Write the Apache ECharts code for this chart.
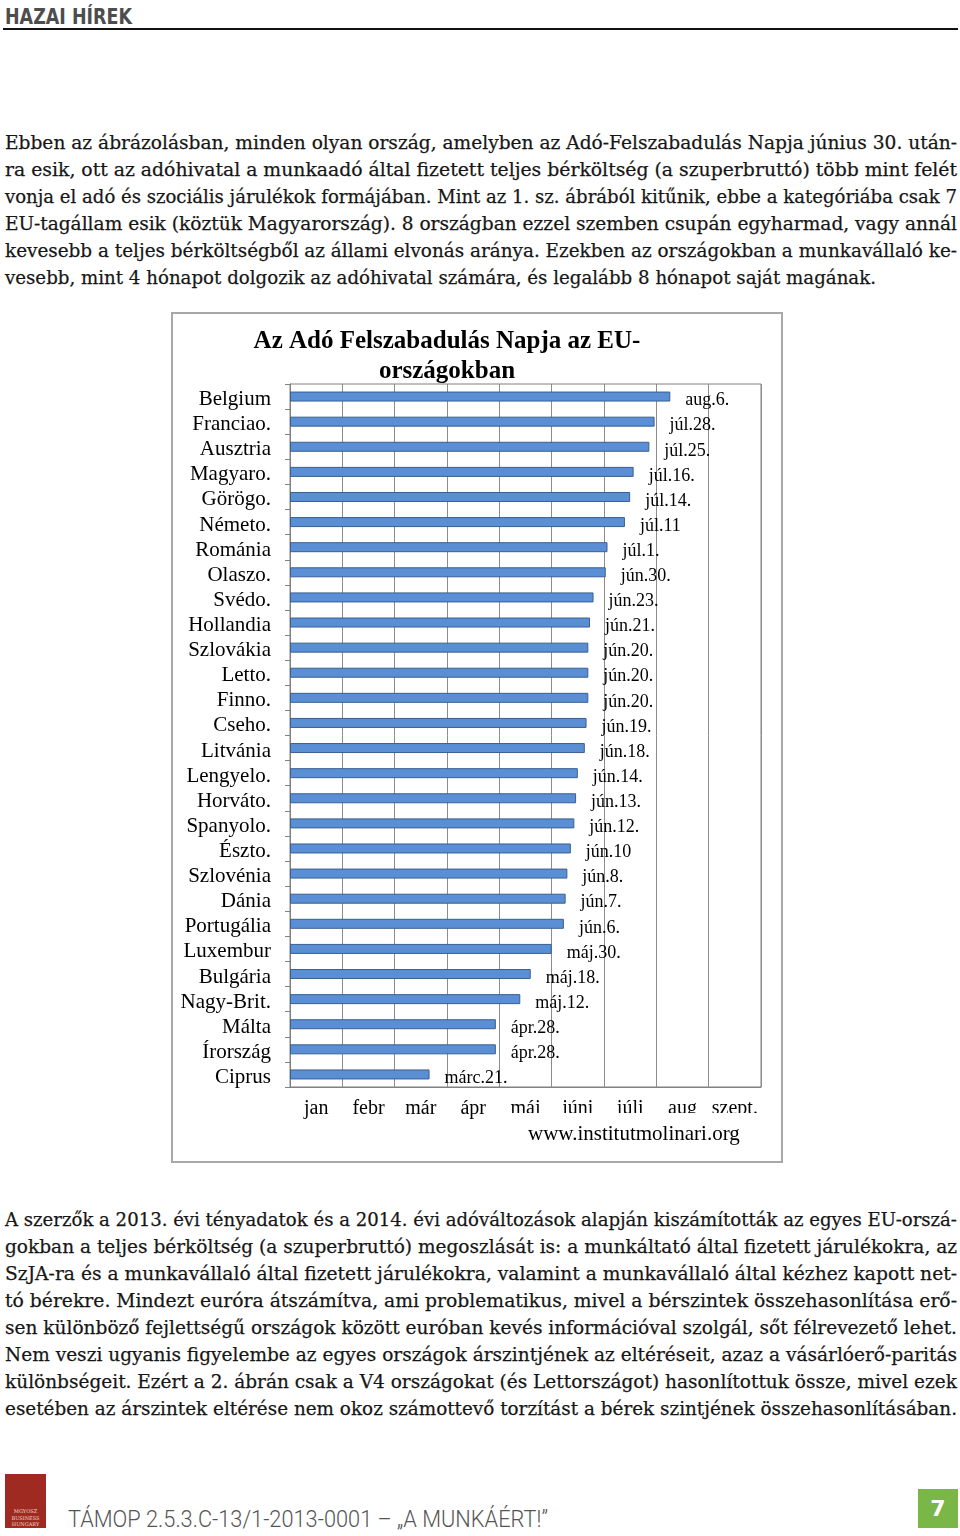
<!DOCTYPE html>
<html>
<head>
<meta charset="utf-8">
<script src="https://cdn.jsdelivr.net/npm/echarts@6/dist/echarts.min.js"></script>
<style>
  html,body{margin:0;padding:0;background:#fff;}
  body{width:960px;height:1536px;position:relative;overflow:hidden;}
  .hdr{position:absolute;left:5px;top:4px;font-family:'DejaVu Sans',sans-serif;font-weight:bold;font-size:22px;color:#4d4d4d;line-height:26px;white-space:nowrap;transform-origin:left center;}
  .rule{position:absolute;left:3px;top:28px;width:955px;height:2px;background:#111;}
  .para{position:absolute;left:5px;font-family:'DejaVu Serif',serif;font-size:19px;color:#161616;-webkit-text-stroke:0.25px #161616;}
  .ln{height:27px;line-height:27px;white-space:nowrap;}
  .ln span{display:inline-block;white-space:nowrap;transform-origin:left center;}
  #box{position:absolute;left:171px;top:312px;width:612px;height:851px;border:2px solid #a8a8a8;box-sizing:border-box;background:#fff;}
  #chart{position:absolute;left:0;top:0;width:608px;height:847px;}
  .logo{position:absolute;left:5px;top:1474px;width:41px;height:54px;background:#9e2a22;}
  .logo div{position:absolute;left:0;width:41px;text-align:center;font-family:'DejaVu Serif',serif;font-size:5px;line-height:6px;color:#f3d9c6;}
  .foot{position:absolute;left:68px;top:1506px;font-family:Roboto,sans-serif;font-weight:300;font-size:23px;color:#555;line-height:28px;white-space:nowrap;transform-origin:left center;}
  .page{position:absolute;left:918px;top:1489px;width:40px;height:39px;background:#7ab648;color:#fff;font-family:'DejaVu Sans',sans-serif;font-weight:bold;font-size:22px;line-height:39px;text-align:center;}
</style>
</head>
<body>
<div class="hdr" id="hdr" data-w="127">HAZAI HÍREK</div>
<div class="rule"></div>

<div class="para" id="p1" style="top:129px;">
  <div class="ln"><span data-w="952">Ebben az ábrázolásban, minden olyan ország, amelyben az Adó-Felszabadulás Napja június 30. után-</span></div>
  <div class="ln"><span data-w="952">ra esik, ott az adóhivatal a munkaadó által fizetett teljes bérköltség (a szuperbruttó) több mint felét</span></div>
  <div class="ln"><span data-w="952">vonja el adó és szociális járulékok formájában. Mint az 1. sz. ábrából kitűnik, ebbe a kategóriába csak 7</span></div>
  <div class="ln"><span data-w="952">EU-tagállam esik (köztük Magyarország). 8 országban ezzel szemben csupán egyharmad, vagy annál</span></div>
  <div class="ln"><span data-w="952">kevesebb a teljes bérköltségből az állami elvonás aránya. Ezekben az országokban a munkavállaló ke-</span></div>
  <div class="ln"><span data-w="871">vesebb, mint 4 hónapot dolgozik az adóhivatal számára, és legalább 8 hónapot saját magának.</span></div>
</div>

<div id="box"><div id="chart"></div></div>

<div class="para" id="p2" style="top:1206px;">
  <div class="ln"><span data-w="952">A szerzők a 2013. évi tényadatok és a 2014. évi adóváltozások alapján kiszámították az egyes EU-orszá-</span></div>
  <div class="ln"><span data-w="952">gokban a teljes bérköltség (a szuperbruttó) megoszlását is: a munkáltató által fizetett járulékokra, az</span></div>
  <div class="ln"><span data-w="952">SzJA-ra és a munkavállaló által fizetett járulékokra, valamint a munkavállaló által kézhez kapott net-</span></div>
  <div class="ln"><span data-w="952">tó bérekre. Mindezt euróra átszámítva, ami problematikus, mivel a bérszintek összehasonlítása erő-</span></div>
  <div class="ln"><span data-w="952">sen különböző fejlettségű országok között euróban kevés információval szolgál, sőt félrevezető lehet.</span></div>
  <div class="ln"><span data-w="952">Nem veszi ugyanis figyelembe az egyes országok árszintjének az eltéréseit, azaz a vásárlóerő-paritás</span></div>
  <div class="ln"><span data-w="952">különbségeit. Ezért a 2. ábrán csak a V4 országokat (és Lettországot) hasonlítottuk össze, mivel ezek</span></div>
  <div class="ln"><span data-w="952">esetében az árszintek eltérése nem okoz számottevő torzítást a bérek szintjének összehasonlításában.</span></div>
</div>

<div class="logo">
  <div style="top:34px;">MGYOSZ</div>
  <div style="top:41px;">BUSINESS</div>
  <div style="top:47px;">HUNGARY</div>
</div>
<div class="foot" id="foot" data-w="480">TÁMOP 2.5.3.C-13/1-2013-0001 – „A MUNKÁÉRT!”</div>
<div class="page">7</div>

<script>
// ---- data ----
const countries = ['Belgium','Franciao.','Ausztria','Magyaro.','Görögo.','Németo.','Románia','Olaszo.','Svédo.','Hollandia','Szlovákia','Letto.','Finno.','Cseho.','Litvánia','Lengyelo.','Horváto.','Spanyolo.','Észto.','Szlovénia','Dánia','Portugália','Luxembur','Bulgária','Nagy-Brit.','Málta','Írország','Ciprus'];
// day of the year of the tax freedom day
const dayOfYear = [218,209,206,197,195,192,182,181,174,172,171,171,171,170,169,165,164,163,161,159,158,157,150,138,132,118,118,80];
const dateLabels = ['aug.6.','júl.28.','júl.25.','júl.16.','júl.14.','júl.11','júl.1.','jún.30.','jún.23.','jún.21.','jún.20.','jún.20.','jún.20.','jún.19.','jún.18.','jún.14.','jún.13.','jún.12.','jún.10','jún.8.','jún.7.','jún.6.','máj.30.','máj.18.','máj.12.','ápr.28.','ápr.28.','márc.21.'];
const monthLabels = ['jan','febr','már','ápr','máj','júni','júli','aug','szept.'];
const axisMin = 0, axisMax = 270, axisStep = 30;

// ---- text fitting ----
function fitEl(el){
  const target = parseFloat(el.getAttribute('data-w'));
  el.style.transform = ''; el.style.wordSpacing = '';
  const w = el.getBoundingClientRect().width;
  if (w > target) {
    el.style.transform = 'scaleX(' + (target / w) + ')';
  } else {
    const n = (el.textContent.match(/ /g) || []).length;
    if (n) el.style.wordSpacing = ((target - w) / n) + 'px';
    else el.style.transform = 'scaleX(' + (target / w) + ')';
  }
}
function fitAll(){ document.querySelectorAll('[data-w]').forEach(fitEl); }
fitAll();
if (document.fonts && document.fonts.ready) document.fonts.ready.then(fitAll);

// ---- chart ----
const serif = "'Liberation Serif','Times New Roman',serif";
const chart = echarts.init(document.getElementById('chart'), null, {renderer:'canvas'});
chart.setOption({
  animation: false,
  backgroundColor: '#fff',
  title: {
    text: 'Az Adó Felszabadulás Napja az EU-\nországokban',
    left: 274, top: 13, textAlign: 'center', padding: 0,
    textStyle: {fontFamily: serif, fontSize: 25, fontWeight: 'bold', lineHeight: 30, color: '#000'}
  },
  grid: {left: 117, top: 70, width: 471, height: 703, show: true, borderColor: '#808080', borderWidth: 1, backgroundColor: 'transparent'},
  xAxis: [
    {type: 'value', min: axisMin, max: axisMax, interval: axisStep,
     axisLabel: {show: false}, axisTick: {show: false},
     axisLine: {show: true, lineStyle: {color: '#808080'}},
     splitLine: {show: true, lineStyle: {color: '#8c8c8c', width: 1}}},
    {type: 'category', data: monthLabels, position: 'bottom',
     axisLine: {show: false}, axisTick: {show: false}, splitLine: {show: false},
     axisLabel: {interval: 0, margin: 12, fontFamily: serif, fontSize: 20, color: '#000'}}
  ],
  yAxis: {
    type: 'category', data: countries, inverse: true,
    axisLine: {show: true, lineStyle: {color: '#808080'}},
    axisTick: {show: true, length: 5, lineStyle: {color: '#808080'}},
    axisLabel: {interval: 0, margin: 19, verticalAlign: 'top', lineHeight: 6, fontFamily: serif, fontSize: 21, color: '#000'}
  },
  series: [{
    type: 'bar', xAxisIndex: 0, data: dayOfYear, barWidth: 10,
    itemStyle: {color: '#5a8fd6', borderColor: '#3a5f8e', borderWidth: 1},
    label: {show: true, position: 'right', distance: 15, offset: [0, 4],
      formatter: p => dateLabels[p.dataIndex],
      fontFamily: serif, fontSize: 18, color: '#000'}
  }],
  graphic: [
    {type: 'text', left: 355, top: 810, z: 10,
     style: {text: 'www.institutmolinari.org', font: "21px 'Liberation Serif','Times New Roman',serif", fill: '#000'}},
    {type: 'rect', z: 20, shape: {x: 330, y: 799, width: 276, height: 12}, style: {fill: '#fff'}}
  ]
});
</script>
</body>
</html>
